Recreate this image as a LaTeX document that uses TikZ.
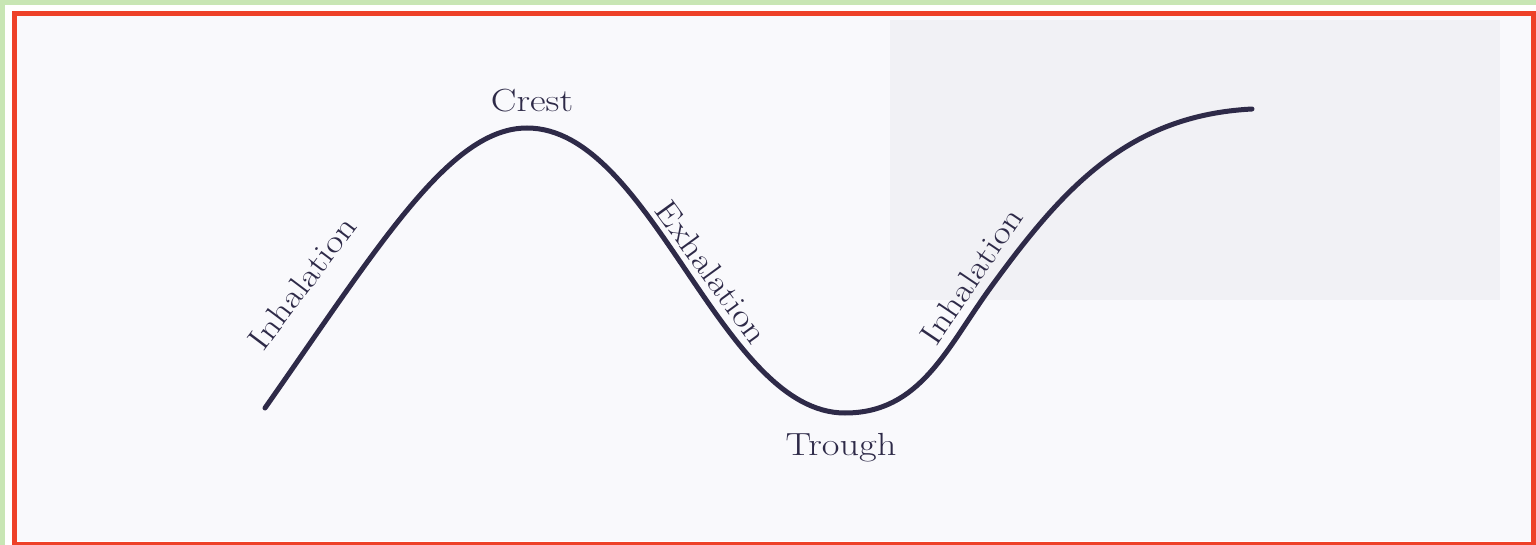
\documentclass[tikz,border=0pt]{standalone}
\usepackage{fontspec}
\newfontfamily\labfont[FakeStretch=1.2]{Latin Modern Roman}
\definecolor{ink}{HTML}{2E2A48}
\definecolor{paperTone}{HTML}{F9F9FC}
\definecolor{greyPatch}{HTML}{F1F1F5}
\definecolor{frameGreen}{HTML}{C8E6B4}
\definecolor{frameRed}{HTML}{EE4128}
\begin{document}
\begin{tikzpicture}[x=1pt,y=1pt,
  wave/.style={draw=ink,line width=5pt,line cap=round},
  lab/.style={text=ink,font=\labfont\fontsize{32}{38}\selectfont,inner sep=0pt}]
\useasboundingbox (0,0) rectangle (1536,544);
\fill[white] (0,0) rectangle (1536,544);
\fill[paperTone] (17,3) rectangle (1532,531);
\fill[greyPatch] (890,244) rectangle (1500,524);
% frames
\draw[frameGreen,line width=10pt] (0,-20) -- (0,544) -- (1560,544);
\draw[frameRed,line width=5pt] (14.5,0) -- (14.5,530.5) -- (1533.5,530.5) -- (1533.5,0) -- cycle;
% wave
\coordinate (S) at (265,136);
\coordinate (C) at (527,416);
\coordinate (T) at (845,131);
\coordinate (M3) at (991,257);
\coordinate (E) at (1252,435);
\draw[wave] (S) .. controls (380,300) and (450,416) .. (C)
  .. controls (652,416) and (720,131) .. (T)
  to[out=0,in=234] (M3) to[out=54,in=183] (E);
% labels
\node[lab,anchor=base] (crest) at (532,432) {Crest};
\node[lab,anchor=base] (trough) at (841,89) {Trough};
\node[lab,rotate=53] (inh1) at (302,261) {Inhalation};
\node[lab,rotate=-54] (exh) at (712,272) {Exhalation};
\node[lab,rotate=56] (inh2) at (971,268) {Inhalation};
\end{tikzpicture}
\end{document}
